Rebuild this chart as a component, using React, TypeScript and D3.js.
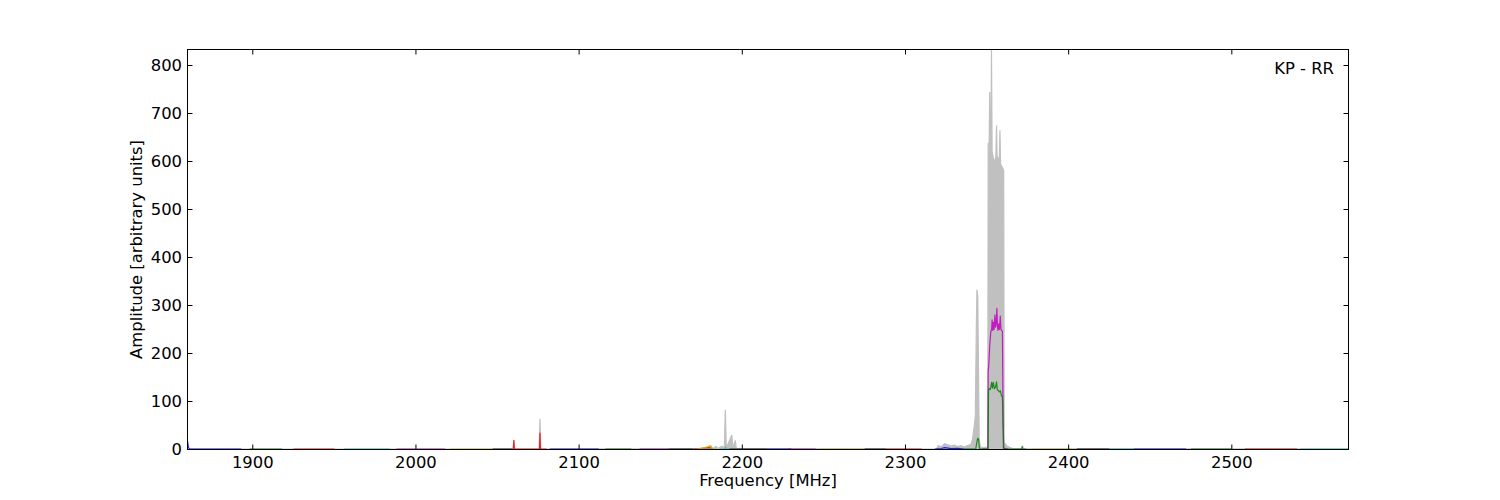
import React from "react";
import * as d3 from "d3";

// ---------- data ----------
const xDomain = [1860, 2571.5];
const yDomain = [0, 833.3];
const xTicks = [1900, 2000, 2100, 2200, 2300, 2400, 2500];
const yTicks = [0, 100, 200, 300, 400, 500, 600, 700, 800];

// gray (max-hold) spectrum: [MHz, amplitude]
const graySpectrum: [number, number][] = [
  [1860, 1], [2059.5, 1], [2060, 19], [2060.5, 1], [2075.5, 1], [2076, 64], [2076.5, 1],
  [2176, 2], [2179, 5], [2181, 7], [2182, 2], [2184, 6], [2185, 2], [2187.5, 7], [2189, 3],
  [2189.6, 83], [2190.2, 3], [2193.6, 30], [2194.2, 2], [2195.7, 19], [2196.3, 2],
  [2319, 1], [2320, 8], [2322, 6], [2324, 12], [2326, 10], [2328, 7], [2330, 9], [2332, 6],
  [2334, 8], [2336, 5], [2338, 8], [2340, 10], [2341, 20], [2342, 45], [2342.8, 70],
  [2343.4, 250], [2343.8, 333], [2344.3, 320], [2344.8, 150], [2345.2, 20], [2346, 5],
  [2348, 4], [2350.4, 5], [2350.7, 637], [2351.3, 640], [2351.6, 745], [2351.9, 650],
  [2352.4, 640], [2352.7, 833], [2353.1, 620], [2354, 605], [2354.8, 600], [2355.4, 610],
  [2355.8, 675], [2356.2, 600], [2356.8, 607], [2357.5, 600], [2357.9, 665], [2358.3, 595],
  [2359, 590], [2359.8, 585], [2360.2, 580], [2360.5, 15], [2362, 8], [2364, 4], [2366, 2],
  [2371.5, 2], [2371.8, 8], [2372.1, 2], [2571.5, 1],
];

// coloured sub-band traces (matplotlib classic colour cycle)
const bandColors = ["#0000ff", "#008000", "#ff0000", "#00bfbf", "#bf00bf", "#bfbf00", "#000000"];

const blueStart: [number, number][] = [[1860, 18], [1860.6, 4], [1861.5, 0.6], [1866, 0.6], [1880, 0.6], [1893, 0.6]];
const greenBand1: [number, number][] = [[1898, 0.6], [1918, 0.6]];
const redBand1: [number, number][] = [[1925, 0.6], [1950, 0.6]];
const cyanBand1: [number, number][] = [[1956, 0.6], [1984, 0.6]];
const magentaBand1: [number, number][] = [[1988, 0.6], [2018, 0.6]];
const yellowBand1: [number, number][] = [[2021, 0.6], [2047, 0.6]];
const blackBand1: [number, number][] = [[2047, 0.6], [2059, 0.6]];
const redBand2: [number, number][] = [[2059, 0.6], [2059.7, 0.6], [2060, 19], [2060.3, 0.6], [2075.7, 0.6], [2076, 34], [2076.3, 0.6], [2080, 0.6]];
const blueBand2: [number, number][] = [[2082, 0.6], [2112, 0.6]];
const greenBand2: [number, number][] = [[2116, 0.6], [2132, 0.6]];
const magentaBand2: [number, number][] = [[2137, 0.6], [2155, 0.6]];
const blackBand2: [number, number][] = [[2155, 0.6], [2170, 0.6]];
const redBand3: [number, number][] = [[2170, 0.6], [2175, 2.5], [2179, 4], [2181, 3], [2182, 0.6]];
const yellowBand2: [number, number][] = [[2172, 0.6], [2176, 3], [2179, 6], [2180.5, 8], [2181.3, 2], [2184, 0.6]];
const cyanBand2: [number, number][] = [[2186, 0.6], [2189.4, 0.6], [2189.7, 5], [2190, 0.6], [2192, 0.6]];
const blackBand3: [number, number][] = [[2192, 0.6], [2215, 0.6]];
const blueBand3: [number, number][] = [[2215, 0.6], [2230, 0.6]];
const magentaBand3: [number, number][] = [[2228, 0.6], [2245, 0.6]];
const yellowBand3: [number, number][] = [[2247, 0.6], [2275, 0.6]];
const blackBand4: [number, number][] = [[2275, 0.6], [2288, 0.6]];
const redBand4: [number, number][] = [[2288, 0.6], [2310, 0.6]];
const blueBand4: [number, number][] = [[2318, 0.6], [2322, 2], [2324, 4], [2326, 3], [2328, 2], [2332, 2.5], [2336, 0.6]];
const cyanBand3: [number, number][] = [[2336, 0.6], [2342, 0.6]];
const greenBand3: [number, number][] = [
  [2336, 0.6], [2343, 0.6], [2343.6, 12], [2344.2, 23], [2344.8, 22], [2345.3, 3], [2346, 0.6],
  [2350.6, 0.6], [2350.9, 125], [2351.4, 127], [2352, 125], [2352.8, 140], [2353.3, 128],
  [2353.8, 140], [2354.5, 127], [2355.2, 130], [2355.8, 141], [2356.3, 124], [2357, 123],
  [2357.5, 120], [2358.2, 122], [2358.8, 112], [2359.4, 110], [2359.8, 50], [2360.3, 0.6],
  [2371.2, 0.6], [2371.5, 6], [2371.8, 0.6], [2374, 0.6],
];
const magentaBand4: [number, number][] = [
  [2347, 0.6], [2350.5, 0.6], [2350.7, 161], [2351.1, 180], [2351.7, 220], [2352.3, 245],
  [2352.8, 250], [2353.1, 270], [2353.5, 248], [2353.9, 265], [2354.3, 250], [2354.8, 280],
  [2355.2, 255], [2355.6, 262], [2356.0, 294], [2356.4, 255], [2356.7, 248], [2357.2, 262],
  [2357.6, 250], [2358.1, 278], [2358.5, 250], [2358.9, 248], [2359.4, 246], [2359.7, 120],
  [2360.0, 3], [2363, 0.6],
];
const yellowBand4: [number, number][] = [[2378, 0.6], [2402, 0.6]];
const blackBand5: [number, number][] = [[2405, 0.6], [2425, 0.6]];
const cyanBand4: [number, number][] = [[2425, 0.6], [2440, 0.6]];
const blueBand5: [number, number][] = [[2440, 0.6], [2472, 0.6]];
const greenBand4: [number, number][] = [[2475, 0.6], [2500, 0.6]];
const redBand5: [number, number][] = [[2508, 0.6], [2540, 0.6]];
const cyanBand5: [number, number][] = [[2542, 0.6], [2571.5, 0.6]];

const bands: { data: [number, number][]; color: number }[] = [
  { data: blueStart, color: 0 }, { data: greenBand1, color: 1 }, { data: redBand1, color: 2 },
  { data: cyanBand1, color: 3 }, { data: magentaBand1, color: 4 }, { data: yellowBand1, color: 5 },
  { data: blackBand1, color: 6 }, { data: redBand2, color: 2 }, { data: blueBand2, color: 0 },
  { data: greenBand2, color: 1 }, { data: magentaBand2, color: 4 }, { data: blackBand2, color: 6 },
  { data: redBand3, color: 2 }, { data: yellowBand2, color: 5 }, { data: cyanBand2, color: 3 },
  { data: blackBand3, color: 6 }, { data: blueBand3, color: 0 }, { data: magentaBand3, color: 4 },
  { data: yellowBand3, color: 5 }, { data: blackBand4, color: 6 }, { data: redBand4, color: 2 },
  { data: blueBand4, color: 0 }, { data: cyanBand3, color: 3 }, { data: magentaBand4, color: 4 },
  { data: greenBand3, color: 1 }, { data: yellowBand4, color: 5 }, { data: blackBand5, color: 6 },
  { data: cyanBand4, color: 3 }, { data: blueBand5, color: 0 }, { data: greenBand4, color: 1 },
  { data: redBand5, color: 2 }, { data: cyanBand5, color: 3 },
];

const xLabel = "Frequency [MHz]";
const yLabel = "Amplitude [arbitrary units]";
const panelLabel = "KP - RR";

// ---------- layout ----------
const W = 1500, H = 500;
const L = 187.5, R = 1348.5, T = 49.5, B = 449.5;
const FONT = "'DejaVu Sans', sans-serif";
const FS = 16.4;

export default function App() {
  const x = d3.scaleLinear().domain(xDomain).range([L, R]);
  const y = d3.scaleLinear().domain(yDomain).range([B, T]);
  const line = d3.line<[number, number]>().x(d => x(d[0])).y(d => y(d[1]));
  const area = d3.area<[number, number]>().x(d => x(d[0])).y0(y(0)).y1(d => y(d[1]));
  const tickLen = 5;

  return (
    <svg width={W} height={H} style={{ position: "absolute", left: 0, top: 0, background: "#fff" }}
      fontFamily={FONT}>
      <defs>
        <clipPath id="plotclip">
          <rect x={L} y={T} width={R - L} height={B - T} />
        </clipPath>
      </defs>
      <rect x={0} y={0} width={W} height={H} fill="#fff" />
      <g clipPath="url(#plotclip)">
        <path d={area(graySpectrum) || ""} fill="#c0c0c0" stroke="none" />
        <path d={line(graySpectrum) || ""} fill="none" stroke="#c0c0c0" strokeWidth={1.2} />
        {bands.map((b, i) => (
          <path key={i} d={line(b.data) || ""} fill="none" stroke={bandColors[b.color]}
            strokeWidth={1.2} strokeLinejoin="round" strokeOpacity={0.85} />
        ))}
      </g>
      <rect x={L} y={T} width={R - L} height={B - T} fill="none" stroke="#000" strokeWidth={1} />
      {xTicks.map(t => (
        <g key={"x" + t}>
          <line x1={x(t)} x2={x(t)} y1={B} y2={B - tickLen} stroke="#000" />
          <line x1={x(t)} x2={x(t)} y1={T} y2={T + tickLen} stroke="#000" />
          <text x={x(t)} y={467.5} fontSize={FS} textAnchor="middle" fill="#000">{t}</text>
        </g>
      ))}
      {yTicks.map(t => (
        <g key={"y" + t}>
          <line x1={L} x2={L + tickLen} y1={y(t)} y2={y(t)} stroke="#000" />
          <line x1={R} x2={R - tickLen} y1={y(t)} y2={y(t)} stroke="#000" />
          <text x={182} y={y(t)} dy="0.36em" fontSize={FS} textAnchor="end" fill="#000">{t}</text>
        </g>
      ))}
      <text x={(L + R) / 2} y={486} fontSize={FS} textAnchor="middle" fill="#000">{xLabel}</text>
      <text transform={`translate(142, ${(T + B) / 2}) rotate(-90)`} fontSize={FS} textAnchor="middle" fill="#000">{yLabel}</text>
      <text x={1334} y={73.5} fontSize={FS} textAnchor="end" fill="#000">{panelLabel}</text>
    </svg>
  );
}
